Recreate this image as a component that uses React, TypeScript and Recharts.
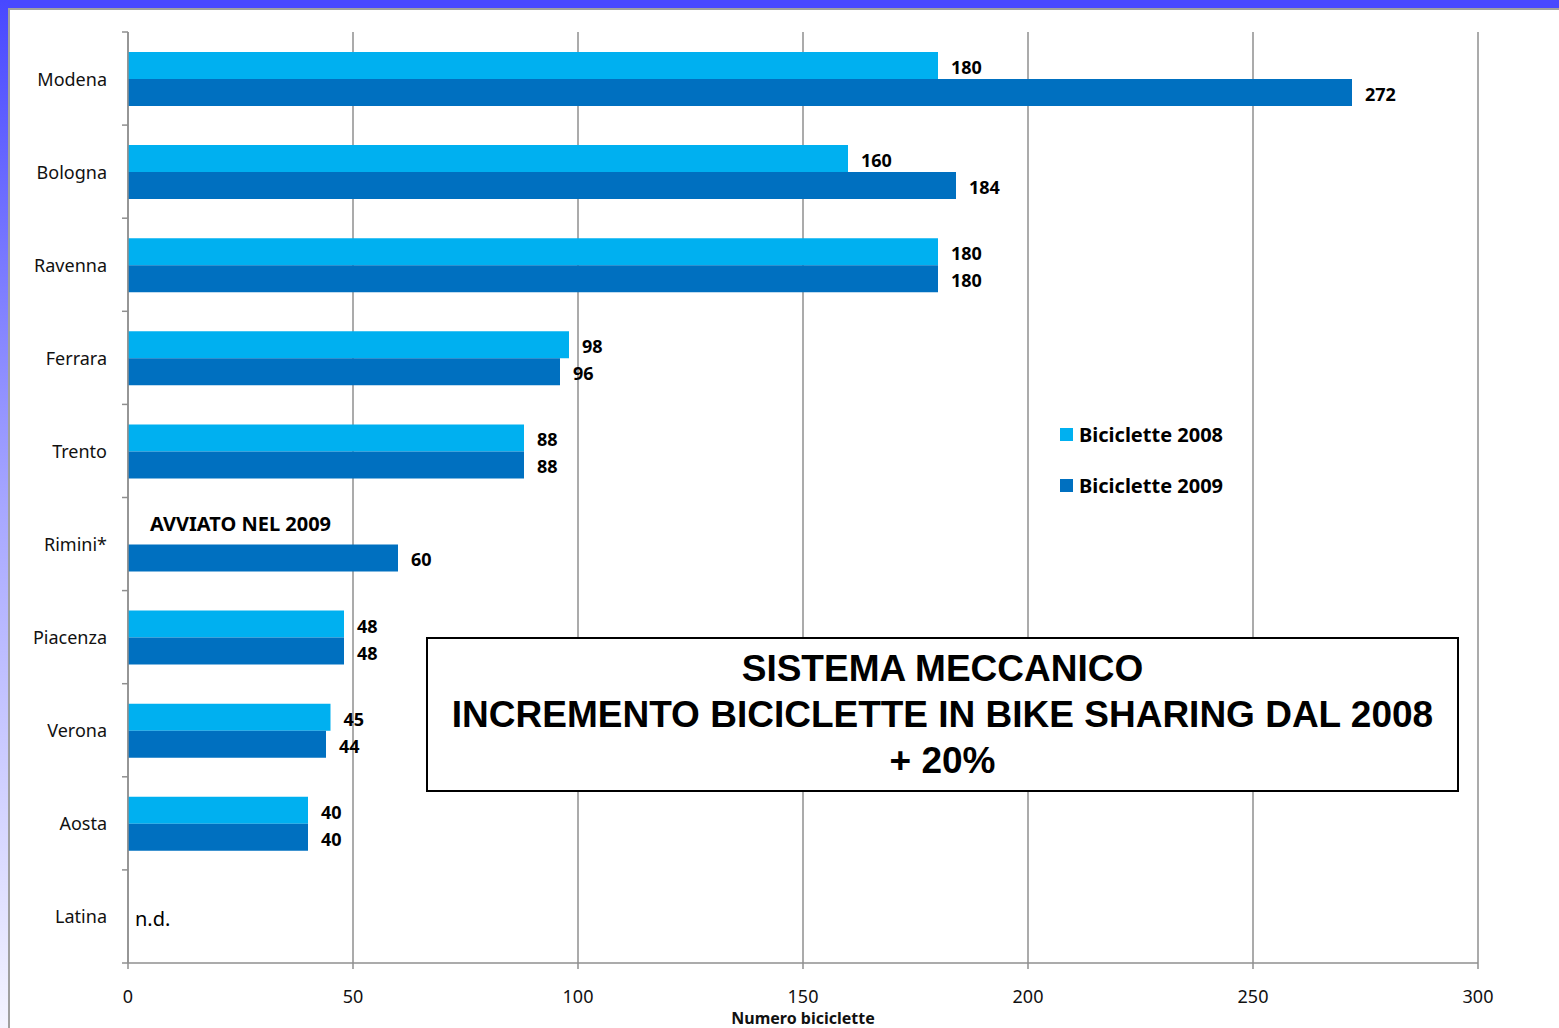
import React from "react";
import {
  BarChart,
  Bar,
  XAxis,
  YAxis,
  CartesianGrid,
  LabelList,
  ReferenceDot,
} from "recharts";

// Bike sharing - mechanical system, bikes per city
const cities = ["Modena", "Bologna", "Ravenna", "Ferrara", "Trento", "Rimini*", "Piacenza", "Verona", "Aosta", "Latina"];
const bikes2008 = [180, 160, 180, 98, 88, null, 48, 45, 40, null];
const bikes2009 = [272, 184, 180, 96, 88, 60, 48, 44, 40, null];
const xTicks = [0, 50, 100, 150, 200, 250, 300];

const series = [
  { key: "b2008", name: "Biciclette 2008", color: "#00B0F0" },
  { key: "b2009", name: "Biciclette 2009", color: "#0070C0" },
];

const notes = [
  { city: "Rimini*", text: "AVVIATO NEL 2009", bold: true, dx: 22, dy: -21 },
  { city: "Latina", text: "n.d.", bold: false, dx: 7, dy: 2 },
];

const boxLines = ["SISTEMA MECCANICO", "INCREMENTO BICICLETTE IN BIKE SHARING DAL 2008", "+ 20%"];

const data = cities.map((name, i) => ({ name, b2008: bikes2008[i], b2009: bikes2009[i] }));

const W = 1559;
const H = 1028;
const MARGIN = { top: 32, right: 81, left: 0, bottom: 0 };
const X_AXIS_H = 65;
const PLOT_H = H - MARGIN.top - MARGIN.bottom - X_AXIS_H;
const BAND = PLOT_H / cities.length;
const GRID = "#8f8f8f";
const FONT = "'Noto Sans', sans-serif";

const CityTick = (props: any) => {
  const { x, y, payload, index } = props;
  return (
    <g>
      <line x1={x - 6} x2={x} y1={y - BAND / 2} y2={y - BAND / 2} stroke={GRID} strokeWidth={1.5} />
      {index === cities.length - 1 && (
        <line x1={x - 6} x2={x} y1={y + BAND / 2} y2={y + BAND / 2} stroke={GRID} strokeWidth={1.5} />
      )}
      <text x={x - 21} y={y} textAnchor="end" dominantBaseline="central" fontSize={18} fill="#111" fontFamily={FONT}>
        {payload.value}
      </text>
    </g>
  );
};

const App = () => {
  return (
    <div style={{ position: "absolute", left: 0, top: 0, width: W, height: H, overflow: "hidden", background: "#fff" }}>
      {/* slide frame */}
      <div style={{ position: "absolute", left: 0, top: 0, width: W, height: 8, background: "#4848ff" }} />
      <div
        style={{
          position: "absolute",
          left: 0,
          top: 0,
          width: 8,
          height: H,
          background: "linear-gradient(#4848ff, #a8a8ff 50%, #f4f4ff)",
        }}
      />
      <div style={{ position: "absolute", left: 8, top: 8, width: W, height: H, borderLeft: "2px solid #a0a0a0", borderTop: "2px solid #a0a0a0" }} />

      <div style={{ position: "absolute", left: 0, top: 0 }}>
        <BarChart
          width={W}
          height={H}
          data={data}
          layout="vertical"
          margin={MARGIN}
          barCategoryGap="21.5%"
          barGap={0}
        >
          <CartesianGrid horizontal={false} stroke={GRID} strokeWidth={1.5} />
          <XAxis
            type="number"
            domain={[0, 300]}
            ticks={xTicks}
            height={X_AXIS_H}
            stroke={GRID}
            strokeWidth={1.5}
            tickSize={6}
            tickMargin={21}
            tick={{ fontSize: 18, fill: "#111", fontFamily: FONT }}
            label={{
              value: "Numero biciclette",
              position: "insideBottom",
              offset: 4,
              fontSize: 16,
              fontWeight: 700,
              fill: "#111",
              fontFamily: FONT,
            }}
          />
          <YAxis
            type="category"
            dataKey="name"
            width={128}
            stroke={GRID}
            strokeWidth={1.5}
            tickLine={false}
            tickSize={0}
            tickMargin={0}
            tick={<CityTick />}
            interval={0}
          />
          {series.map((s) => (
            <Bar key={s.key} dataKey={s.key} name={s.name} fill={s.color} isAnimationActive={false}>
              <LabelList
                dataKey={s.key}
                position="right"
                offset={13}
                dy={2}
                formatter={(v: any) => (v == null ? "" : v)}
                style={{ fontSize: 18, fontWeight: 700, fill: "#000", fontFamily: FONT }}
              />
            </Bar>
          ))}
          {notes.map((n) => (
            <ReferenceDot
              key={n.city}
              x={0}
              y={n.city}
              r={0}
              fill="none"
              stroke="none"
              label={{
                content: (p: any) => {
                  const vb = p.viewBox || {};
                  return (
                    <text
                      x={vb.x + n.dx}
                      y={vb.y + n.dy}
                      dominantBaseline="central"
                      fontSize={20}
                      fontWeight={n.bold ? 700 : 400}
                      fill="#000"
                      fontFamily={FONT}
                    >
                      {n.text}
                    </text>
                  );
                },
              }}
            />
          ))}
        </BarChart>
      </div>

      {/* legend */}
      <div style={{ position: "absolute", left: 1060, top: 420, fontFamily: FONT }}>
        {series.map((s) => (
          <div key={s.key} style={{ display: "flex", alignItems: "center", height: 28, marginBottom: 23 }}>
            <span style={{ width: 13, height: 13, background: s.color, marginRight: 6 }} />
            <span style={{ fontSize: 20, fontWeight: 700, color: "#000" }}>{s.name}</span>
          </div>
        ))}
      </div>

      {/* headline box */}
      <div
        style={{
          position: "absolute",
          left: 426,
          top: 637,
          width: 1029,
          height: 151,
          border: "2px solid #000",
          background: "#fff",
          display: "flex",
          flexDirection: "column",
          justifyContent: "center",
          alignItems: "center",
          fontFamily: "'Liberation Sans', Arial, sans-serif",
          fontWeight: 700,
          fontSize: 37,
          lineHeight: "46px",
          color: "#000",
        }}
      >
        {boxLines.map((l) => (
          <div key={l} style={{ whiteSpace: "nowrap" }}>{l}</div>
        ))}
      </div>
    </div>
  );
};

export default App;
